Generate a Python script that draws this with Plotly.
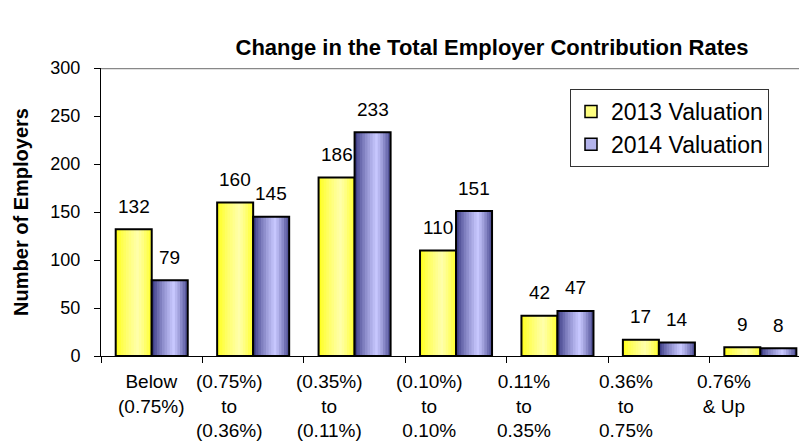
import plotly.graph_objects as go

# data
categories = [
    "Below<br>(0.75%)",
    "(0.75%)<br>to<br>(0.36%)",
    "(0.35%)<br>to<br>(0.11%)",
    "(0.10%)<br>to<br>0.10%",
    "0.11%<br>to<br>0.35%",
    "0.36%<br>to<br>0.75%",
    "0.76%<br>& Up",
]
cat_keys = [f"c{i}" for i in range(len(categories))]
val_2013 = [132, 160, 186, 110, 42, 17, 9]
val_2014 = [79, 145, 233, 151, 47, 14, 8]

FONT = "Liberation Sans, Arial, sans-serif"
BAR_W = 0.355
N_STRIPS = 14
# the page body adds an 8px margin, so the figure is 8px smaller
W, H = 799, 435
# small leftward nudge of the category labels, as in the original
label_nudge = [0, -24, -25, -27, -33, -33, -36]


def blend(c1, c2, w):
    r, g, b = (round(a + (b_ - a) * w) for a, b_ in zip(c1, c2))
    return f"rgb({r},{g},{b})"


def shade(t, edge, centre, c=0.6):
    # horizontal gradient: edges darker, light band a bit right of middle
    if t <= c:
        w = (t / c) ** 0.7
    else:
        w = 1 - ((t - c) / (1 - c)) ** 1.2 * 0.8
    return blend(edge, centre, w)


series = [
    dict(name="2013 Valuation", y=val_2013, offset=-BAR_W,
         edge=(255, 255, 10), centre=(255, 255, 170), legend="#ffff80"),
    dict(name="2014 Valuation", y=val_2014, offset=0.0,
         edge=(40, 40, 115), centre=(200, 200, 255), legend="#b4b4ec"),
]

fig = go.Figure()

for s in series:
    step = BAR_W / N_STRIPS
    for i in range(N_STRIPS):
        off = s["offset"] + i * step
        w = min(step * 1.4, s["offset"] + BAR_W - off)
        fig.add_trace(go.Bar(
            x=cat_keys, y=s["y"], offset=off, width=w,
            marker=dict(color=shade((i + 0.5) / N_STRIPS, s["edge"], s["centre"]),
                        line=dict(width=0)),
            showlegend=False, hoverinfo="skip",
        ))
    # black outline on top
    fig.add_trace(go.Bar(
        x=cat_keys, y=s["y"], offset=s["offset"], width=BAR_W,
        marker=dict(color="rgba(0,0,0,0)", line=dict(color="black", width=2)),
        showlegend=False, name=s["name"],
    ))
    # legend entry only
    fig.add_trace(go.Bar(
        x=cat_keys[:1], y=[None], name=s["name"], legendgroup=s["name"],
        marker=dict(color=s["legend"], line=dict(color="black", width=1.5)),
    ))

annotations = []
for s in series:
    shift = (s["offset"] + BAR_W / 2) * 101.4
    for k, v in zip(cat_keys, s["y"]):
        annotations.append(dict(
            x=k, y=v, xref="x", yref="y", text=str(v), showarrow=False,
            xshift=shift, yshift=23, yanchor="middle",
            font=dict(family=FONT, size=19, color="black"),
        ))

for k, lab, dx in zip(cat_keys, categories, label_nudge):
    annotations.append(dict(
        x=k, y=0, xref="x", yref="y", text=lab, showarrow=False,
        xshift=dx, yshift=-13, yanchor="top", align="center",
        font=dict(family=FONT, size=19, color="black"),
    ))

fig.update_layout(
    width=W, height=H,
    margin=dict(l=93, r=0, t=60, b=87),
    paper_bgcolor="white", plot_bgcolor="white",
    barmode="overlay",
    title=dict(
        text="<b>Change in the Total Employer Contribution Rates</b>",
        x=(492 - 8) / W, xanchor="center", y=1 - (47 - 8) / H, yanchor="middle",
        font=dict(family=FONT, size=22, color="black"),
    ),
    xaxis=dict(
        type="category", categoryorder="array", categoryarray=cat_keys,
        range=[-0.5, 6.46], showline=True, linecolor="black", linewidth=1,
        ticks="outside", tickson="boundaries", ticklen=6, tickcolor="black",
        showticklabels=False, showgrid=False, zeroline=False,
    ),
    yaxis=dict(
        range=[0, 300], dtick=50, showline=True, linecolor="black", linewidth=1,
        ticks="outside", ticklen=6, tickcolor="black", ticklabelstandoff=10,
        tickfont=dict(family=FONT, size=18, color="black"),
        showgrid=False, zeroline=False, automargin=False,
        title=dict(text="<b>Number of Employers</b>", standoff=16,
                   font=dict(family=FONT, size=20, color="black")),
    ),
    legend=dict(
        x=(570 - 101) / 706, y=(356 - 89) / 288, xanchor="left", yanchor="top",
        bordercolor="#333333", borderwidth=1, bgcolor="white",
        font=dict(family=FONT, size=23, color="black"),
        tracegroupgap=6, traceorder="normal",
    ),
    annotations=annotations,
    shapes=[dict(type="line", xref="paper", yref="y", x0=0, x1=1, y0=300, y1=300,
                 line=dict(color="#888888", width=2.5))],
    showlegend=True,
)

fig.write_html("out.html")
